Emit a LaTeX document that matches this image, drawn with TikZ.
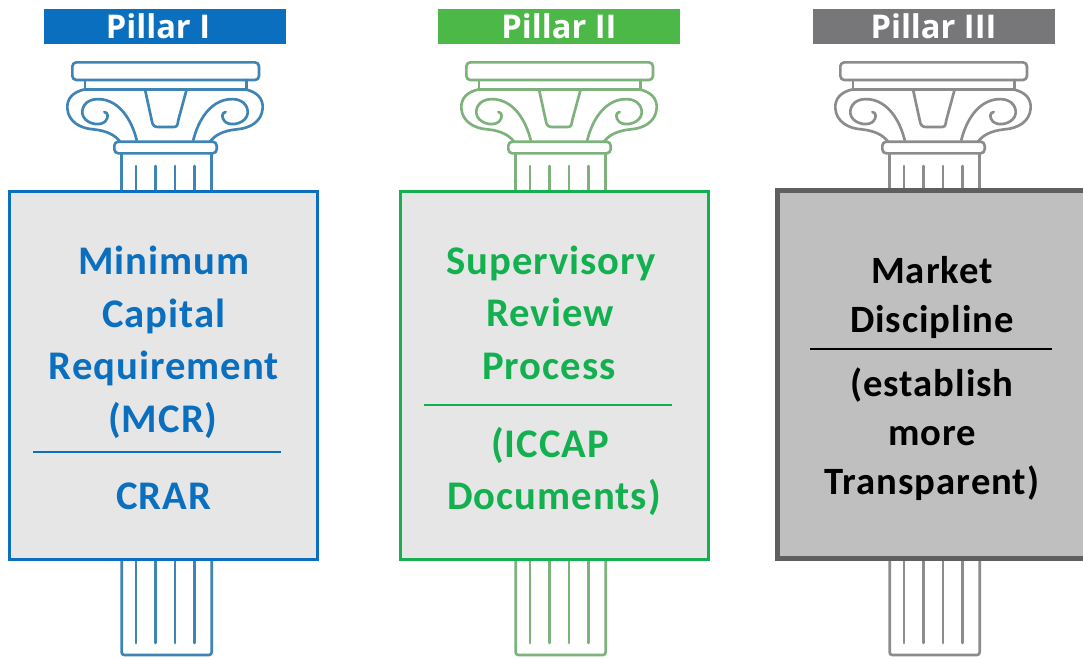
\documentclass[tikz,border=0pt]{standalone}
\usepackage{fontspec}
\setmainfont{Carlito}
\newfontfamily\spacedfont[LetterSpace=2.5]{Carlito}
\newfontfamily\headfont{Open Sans}
\definecolor{blueP}{HTML}{0B6FBF}
\definecolor{blueC}{HTML}{3E84B5}
\definecolor{greenP}{HTML}{12B04F}
\definecolor{greenC}{HTML}{7DB27B}
\definecolor{greenH}{HTML}{4CB848}
\definecolor{greyH}{HTML}{77777A}
\definecolor{greyC}{HTML}{8C8C8C}
\definecolor{greyB}{HTML}{5F5F5F}
\definecolor{fillL}{HTML}{E6E6E6}
\definecolor{fillD}{HTML}{BFBFBF}
\tikzset{
  x=0.75pt,y=-0.75pt,
  headbox/.style={minimum width=181.5pt,minimum height=26.5pt,inner sep=0,text=white,font=\headfont\bfseries\fontsize{24.5}{24}\selectfont},
  panel/.style={minimum width=231pt,minimum height=276pt,inner sep=0,line width=2.4pt},
  lab/.style={anchor=base,inner sep=0,font=\spacedfont\bfseries\fontsize{30.5}{30}\selectfont},
  darklab/.style={anchor=base,inner sep=0,font=\spacedfont\bfseries\fontsize{29}{30}\selectfont,text=black},
  capl/.style={line width=2pt,line join=round,line cap=round},
}
% #1 centre x, #2 colour: the capital and shaft of a column
\newcommand{\columnart}[2]{%
\begin{scope}[shift={(#1,0)},x=0.25pt,y=-0.25pt,capl,draw=#2]
  \draw[rounded corners=3pt] (-278,187) rectangle (282,240);
  \draw (-240,240) -- (-240,268) -- (245,268) -- (245,240);
  \draw (-60,268) -- (-40,360) .. controls (-38,378) and (-30,381) .. (-20,381) -- (25,381) .. controls (35,381) and (38,378) .. (40,360) -- (65,268);
  \foreach \s in {1,-1}{
  \begin{scope}[xscale=\s]
    \draw (-240,268) .. controls (-275,275) and (-295,295) .. (-293,325)
       .. controls (-290,365) and (-255,385) .. (-215,388)
       .. controls (-175,392) and (-150,405) .. (-135,425);
    \draw (-85,420) .. controls (-100,360) and (-135,305) .. (-190,298)
       .. controls (-230,293) and (-250,315) .. (-248,340)
       .. controls (-245,368) and (-200,382) .. (-180,365)
       .. controls (-168,352) and (-170,338) .. (-182,336);
  \end{scope}}
  \draw[rounded corners=3pt] (-152,425) rectangle (155,460);
  \draw (-130,460) -- (-130,575);
  \draw (140,460) -- (140,575);
  \foreach \u in {-87,-28,30,88} \draw (\u,498) -- (\u,575);
  \draw[rounded corners=2pt] (-130,1680) -- (-130,1965) -- (140,1965) -- (140,1680);
  \foreach \u in {-87,-28,30,88} \draw (\u,1680) -- (\u,1929);
\end{scope}}
\begin{document}
\begin{tikzpicture}
\useasboundingbox (0,0) rectangle (1083,658);
\fill[white] (0,0) rectangle (1083,658);
\columnart{165}{blueC}
\columnart{559}{greenC}
\columnart{933}{greyC}
\node[headbox,fill=blueP] (h1) at (165,26.5) {\hspace*{-10.5pt}\raisebox{0.8pt}{Pillar I}};
\node[headbox,fill=greenH] (h2) at (559,26.5) {\raisebox{0.8pt}{Pillar II}};
\node[headbox,fill=greyH] (h3) at (933.5,26.5) {\raisebox{0.8pt}{Pillar III}};
\node[panel,draw=blueP,fill=fillL] (p1) at (163.5,375.5) {};
\node[panel,draw=greenP,fill=fillL] (p2) at (554.5,375.5) {};
\node[panel,draw=greyB,fill=fillD,line width=3.8pt,minimum width=236pt] (p3) at (935,374.5) {};
\begin{scope}[text=blueP]
\node[lab] (a1) at (164,274) {Minimum};
\node[lab] (a2) at (164,327) {Capital};
\node[lab] (a3) at (164,379) {Requirement};
\node[lab] (a4) at (163,432) {(MCR)};
\node[lab] (a5) at (164,509) {CRAR};
\end{scope}
\draw[blueP,line width=1.5pt] (33,452) -- (281,452);
\begin{scope}[text=greenP]
\node[lab] (b1) at (551,274) {Supervisory};
\node[lab] (b2) at (550,326) {Review};
\node[lab] (b3) at (549,379) {Process};
\node[lab] (b4) at (550,457) {(ICCAP};
\node[lab] (b5) at (554,509) {Documents)};
\end{scope}
\draw[greenP,line width=1.5pt] (424,405) -- (672,405);
\node[darklab] (c1) at (932,283) {Market};
\node[darklab] (c2) at (932,332) {Discipline};
\node[darklab] (c3) at (932,396) {(establish};
\node[darklab] (c4) at (932,445) {more};
\node[darklab] (c5) at (932,494) {Transparent)};
\draw[black,line width=2pt] (810,349) -- (1052,349);
\end{tikzpicture}
\end{document}
